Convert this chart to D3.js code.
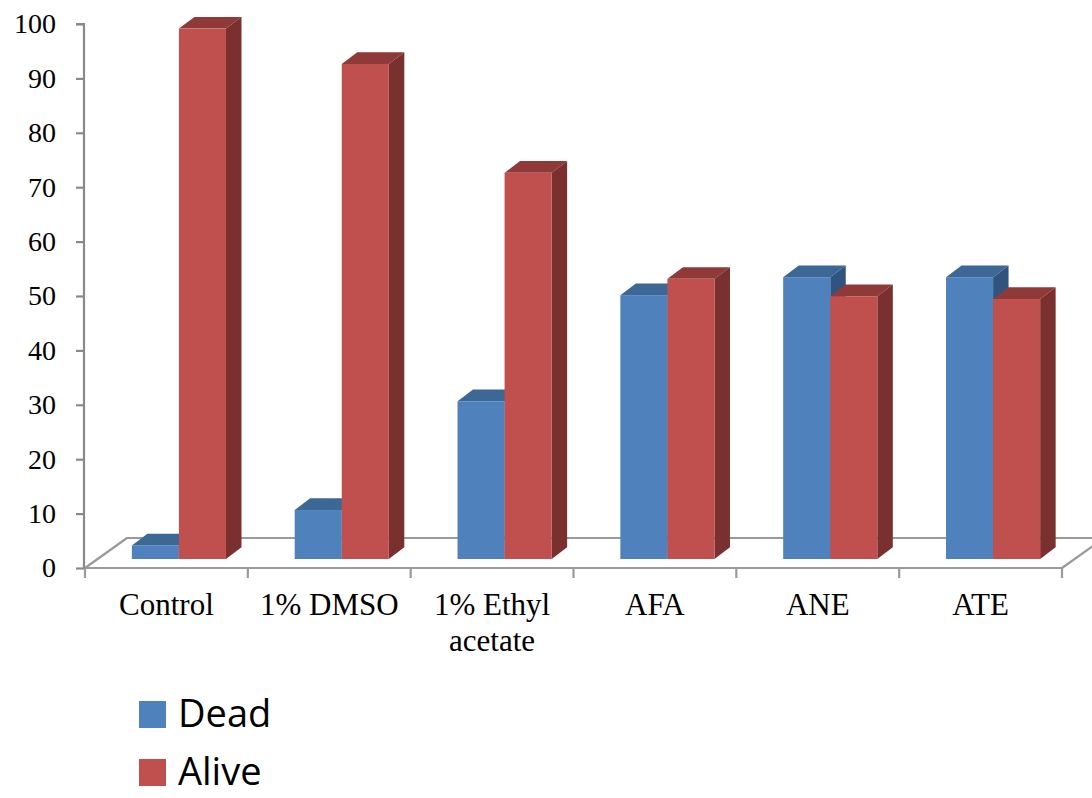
<!DOCTYPE html>
<html>
<head>
<meta charset="utf-8">
<script src="https://cdn.jsdelivr.net/npm/d3@7"></script>
<style>
  body { margin: 0; background: #fff; }
  svg { display: block; }
</style>
</head>
<body>
<div id="chart"></div>
<script>
// data (percent)
const categories = ["Control", "1% DMSO", "1% Ethyl acetate", "AFA", "ANE", "ATE"];
const categoryLines = [["Control"], ["1% DMSO"], ["1% Ethyl", "acetate"], ["AFA"], ["ANE"], ["ATE"]];
const series = ["Dead", "Alive"];
const dead = [2.5, 9, 29, 48.5, 51.8, 51.8];
const alive = [97.5, 91, 71, 51.5, 48.3, 47.8];
const yTicks = [0, 10, 20, 30, 40, 50, 60, 70, 80, 90, 100];

const width = 1092, height = 798;
const colors = {
    Dead:  {front: "#4f81bd", top: "#3d6795", side: "#30547f"},
    Alive: {front: "#c0504d", top: "#8f3a38", side: "#7a302e"}
};

// oblique projection: floor depth, where bars sit in it, and bar depth
const floorDepth = {dx: 42, dy: -30};
const barShift = {dx: 12.5, dy: -9};
const barDepth = {dx: 15.5, dy: -11.7};

const svg = d3.select("#chart").append("svg")
    .attr("width", width)
    .attr("height", height);

const x = d3.scaleBand()
    .domain(categories)
    .range([85, 1062])
    .padding(0);

const xSeries = d3.scaleBand()
    .domain(series)
    .range([0, x.bandwidth()])
    .paddingInner(0)
    .paddingOuter(0.73);

const y = d3.scaleLinear()
    .domain([0, 100])
    .range([568, 24]);

// floor
let x0 = x.range()[0], x1 = x.range()[1], y0 = y(0);
svg.append("path")
    .attr("d", "M" + x0 + "," + y0 +
        "L" + x1 + "," + y0 +
        "L" + (x1 + floorDepth.dx) + "," + (y0 + floorDepth.dy) +
        "L" + (x0 + floorDepth.dx) + "," + (y0 + floorDepth.dy) + "Z")
    .attr("fill", "none")
    .attr("stroke", "#9a9a9a")
    .attr("stroke-width", 2.2)
    .attr("stroke-linejoin", "round");

// y axis
let yAxis = svg.append("g")
    .attr("transform", "translate(84,0)")
    .call(d3.axisLeft(y).tickValues(yTicks).tickSize(8).tickPadding(20).tickFormat(d3.format("d")));
yAxis.select(".domain").attr("stroke", "#8a8a8a").attr("stroke-width", 2.2)
    .attr("d", "M-8," + y(100) + "H0V" + y(0));
yAxis.selectAll(".tick line").attr("stroke", "#8a8a8a").attr("stroke-width", 2.2);
yAxis.selectAll(".tick text")
    .attr("fill", "#000")
    .attr("font-family", "'Liberation Serif', 'Times New Roman', serif")
    .attr("font-size", 28);

// x axis ticks at the category boundaries
let boundaries = categories.map(c => x(c)).concat([x1]);
svg.append("g").selectAll("line")
    .data(boundaries)
    .enter().append("line")
    .attr("x1", d => d).attr("x2", d => d)
    .attr("y1", y0).attr("y2", y0 + 10)
    .attr("stroke", "#9a9a9a")
    .attr("stroke-width", 2.2);

// category labels
let labels = svg.append("g")
    .attr("font-family", "'Liberation Serif', 'Times New Roman', serif")
    .attr("font-size", 31)
    .attr("text-anchor", "middle")
    .attr("fill", "#000");
categories.forEach(function(c, i) {
    let t = labels.append("text")
        .attr("x", x(c) + x.bandwidth() / 2)
        .attr("y", 615);
    categoryLines[i].forEach(function(line, j) {
        t.append("tspan")
            .attr("x", x(c) + x.bandwidth() / 2)
            .attr("dy", j == 0 ? 0 : 36)
            .text(line);
    });
});

// bars, left to right so later faces cover earlier side faces
let bars = [];
categories.forEach(function(c, i) {
    bars.push({cat: c, s: "Dead", v: dead[i]});
    bars.push({cat: c, s: "Alive", v: alive[i]});
});

let barG = svg.append("g").selectAll("g")
    .data(bars)
    .enter().append("g");

function pts(arr) { return arr.map(p => p.join(",")).join(" "); }

barG.each(function(d) {
    let g = d3.select(this);
    let left = x(d.cat) + xSeries(d.s) + barShift.dx;
    let right = left + xSeries.bandwidth();
    let bottom = y(0) + barShift.dy;
    let top = y(d.v) + barShift.dy;
    let ddx = barDepth.dx, ddy = barDepth.dy;

    g.append("polygon")
        .attr("points", pts([[left, top], [right, top], [right + ddx, top + ddy], [left + ddx, top + ddy]]))
        .attr("fill", colors[d.s].top);
    g.append("polygon")
        .attr("points", pts([[right, top], [right + ddx, top + ddy], [right + ddx, bottom + ddy], [right, bottom]]))
        .attr("fill", colors[d.s].side);
    g.append("rect")
        .attr("x", left)
        .attr("y", top)
        .attr("width", right - left)
        .attr("height", bottom - top)
        .attr("fill", colors[d.s].front);
});

// legend (kept a little above the bottom edge so the text is not clipped)
let legend = svg.append("g")
    .selectAll("g")
    .data(series)
    .enter().append("g")
    .attr("transform", (d, i) => "translate(139," + (701 + i * 58) + ")");
legend.append("rect")
    .attr("width", 27)
    .attr("height", 27)
    .attr("fill", d => colors[d].front);
legend.append("text")
    .attr("x", 39)
    .attr("y", 26)
    .attr("font-family", "'Open Sans', sans-serif")
    .attr("font-size", 38)
    .attr("fill", "#000")
    .text(d => d);
</script>
</body>
</html>
